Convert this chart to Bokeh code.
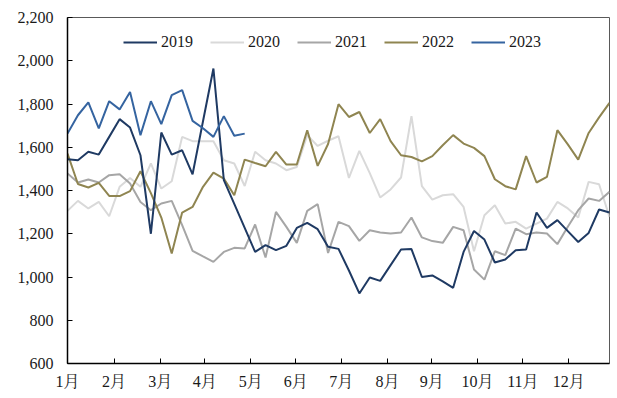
from bokeh.plotting import figure
from bokeh.models import FixedTicker, NumeralTickFormatter, Range1d, Legend, LegendItem
from bokeh.embed import file_html
from bokeh.resources import INLINE

# weekly index (0 = first week of January)
y2019 = [1545, 1540, 1579, 1566, 1648, 1730, 1691, 1563, 1200, 1668, 1566, 1586, 1475, 1720, 1964,
         1448, 1338, 1227, 1116, 1147, 1124, 1144, 1227, 1250, 1221, 1140, 1130, 1030, 924, 998,
         982, 1055, 1127, 1129, 1000, 1007, 980, 950, 1116, 1213, 1173, 1067, 1081, 1124, 1127,
         1298, 1227, 1263, 1212, 1162, 1204, 1312, 1298]
y2020 = [1306, 1352, 1317, 1347, 1281, 1417, 1458, 1417, 1525, 1409, 1443, 1648, 1628, 1628, 1628,
         1540, 1525, 1421, 1579, 1540, 1525, 1494, 1509, 1656, 1606, 1630, 1651, 1458, 1583, 1480,
         1368, 1405, 1460, 1744, 1420, 1358, 1378, 1383, 1324, 1119, 1286, 1332, 1247, 1255, 1224,
         1247, 1270, 1347, 1317, 1275, 1440, 1429, 1278]
y2021 = [1479, 1437, 1451, 1437, 1471, 1475, 1432, 1347, 1309, 1340, 1352, 1240, 1121, 1095, 1070,
         1116, 1135, 1132, 1243, 1090, 1301, 1232, 1158, 1306, 1337, 1111, 1255, 1235, 1167, 1216,
         1206, 1201, 1206, 1275, 1183, 1166, 1158, 1232, 1216, 1035, 988, 1119, 1101, 1224, 1198,
         1206, 1201, 1152, 1232, 1309, 1363, 1352, 1394]
y2022 = [1571, 1430, 1414, 1435, 1375, 1374, 1397, 1489, 1388, 1275, 1109, 1298, 1324, 1417, 1483,
         1455, 1378, 1543, 1527, 1512, 1579, 1520, 1520, 1679, 1514, 1615, 1799, 1740, 1763, 1666,
         1730, 1628, 1563, 1555, 1535, 1559, 1609, 1656, 1617, 1597, 1559, 1452, 1420, 1405, 1559,
         1437, 1463, 1679, 1613, 1543, 1666, 1738, 1805]
y2023 = [1663, 1748, 1807, 1687, 1813, 1775, 1855, 1656, 1813, 1707, 1841, 1864, 1722, 1688, 1648,
         1744, 1653, 1663]

month_labels = [f"{m}月" for m in range(1, 13)]
month_ticks = [0, 4.47, 8.89, 13.16, 17.58, 21.9, 26.27, 30.69, 34.95, 39.33, 43.69, 48.1]
y_ticks = list(range(600, 2201, 200))

FONT = "'Liberation Serif', 'Noto Serif CJK SC', 'Noto Sans CJK SC', serif"

p = figure(width=611, height=393, output_backend="svg", toolbar_location=None,
           x_range=Range1d(0, 52), y_range=Range1d(600, 2200),
           min_border_left=67, min_border_right=2, min_border_top=17, min_border_bottom=30)
p.background_fill_color = "white"
p.border_fill_color = "white"
p.outline_line_color = "#595959"
p.outline_line_width = 1
p.xgrid.visible = False
p.ygrid.visible = False

colors = {"2019": "#1f3a63", "2020": "#d9d9d9", "2021": "#a6a6a6", "2022": "#8f8551", "2023": "#3564a0"}
series = {"2019": y2019, "2020": y2020, "2021": y2021, "2022": y2022, "2023": y2023}
renderers = {}
for name in ["2020", "2021", "2022", "2019", "2023"]:
    ys = series[name]
    renderers[name] = p.line(list(range(len(ys))), ys, line_color=colors[name], line_width=2)

for ax in (p.xaxis[0], p.yaxis[0]):
    ax.axis_line_color = "black"
    ax.axis_line_width = 1.5
    ax.major_tick_line_color = "black"
    ax.major_tick_in = 5
    ax.major_tick_out = 0
    ax.minor_tick_line_color = None
    ax.major_label_text_font = FONT
    ax.major_label_text_font_size = "16px"
    ax.major_label_text_color = "#1a1a1a"

p.xaxis.ticker = FixedTicker(ticks=month_ticks)
p.xaxis.major_label_overrides = {t: l for t, l in zip(month_ticks, month_labels)}
p.xaxis.major_label_standoff = 9
p.yaxis.ticker = FixedTicker(ticks=y_ticks)
p.yaxis.formatter = NumeralTickFormatter(format="0,0")
p.yaxis.major_label_standoff = 14

legend = Legend(items=[LegendItem(label=n, renderers=[renderers[n]]) for n in ["2019", "2020", "2021", "2022", "2023"]],
                orientation="horizontal", location=(56, 311), padding=0, margin=0, spacing=17,
                glyph_width=34, glyph_height=20, label_standoff=4, label_height=20,
                border_line_color=None, background_fill_alpha=0,
                label_text_font=FONT, label_text_font_size="16px", label_text_color="#1a1a1a")
p.add_layout(legend)

open("out.html", "w").write(file_html(p, INLINE))
